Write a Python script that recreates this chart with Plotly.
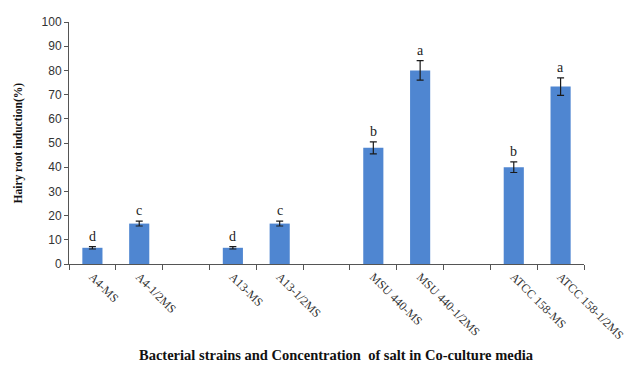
import plotly.graph_objects as go

# Strain / medium combinations; blank entries separate the strain groups
categories = ["A4-MS", "A4-1/2MS", " ",
              "A13-MS", "A13-1/2MS", "  ",
              "MSU 440-MS", "MSU 440-1/2MS", "   ",
              "ATCC 158-MS", "ATCC 158-1/2MS"]
induction = [6.7, 16.7, None, 6.7, 16.7, None, 48.0, 80.0, None, 40.0, 73.3]
std_err = [0.5, 1.0, None, 0.5, 1.0, None, 2.5, 4.0, None, 2.2, 3.6]
letters = ["d", "c", "", "d", "c", "", "b", "a", "", "b", "a"]

bar_color = "#4F86D1"
serif = "Liberation Serif, Times New Roman, serif"

fig = go.Figure()
fig.add_trace(go.Bar(
    x=categories,
    y=induction,
    marker=dict(color=bar_color, line=dict(width=0)),
    error_y=dict(type="data", array=std_err, visible=True,
                 color="#1a1a1a", thickness=1.2, width=3.5),
    width=0.43,
    showlegend=False,
))

# Significance letters above each error bar
for cat, val, err, lab in zip(categories, induction, std_err, letters):
    if val is None:
        continue
    fig.add_annotation(x=cat, y=val + err, text=lab, showarrow=False,
                       yanchor="bottom", yshift=1,
                       font=dict(family=serif, size=14, color="#222222"))

fig.update_layout(
    width=630, height=371,
    margin=dict(l=69, r=46, t=22, b=107, autoexpand=False),
    paper_bgcolor="white", plot_bgcolor="white",
    bargap=0.57,
    xaxis=dict(
        type="category",
        categoryorder="array", categoryarray=categories,
        range=[-0.5, 10.5],
        automargin=False,
        showline=True, linecolor="#555555", linewidth=1,
        ticks="outside", tickson="boundaries", ticklen=5,
        tickcolor="#555555",
        tickangle=45,
        tickfont=dict(family=serif, size=12, color="#333333"),
        showgrid=False, zeroline=False,
    ),
    yaxis=dict(
        range=[0, 100], tick0=0, dtick=10,
        automargin=False,
        showline=True, linecolor="#555555", linewidth=1,
        ticks="outside", ticklen=4, tickcolor="#555555",
        tickfont=dict(family="Liberation Sans, Arial, sans-serif", size=12,
                      color="#333333"),
        showgrid=False, zeroline=False,
    ),
)

fig.add_annotation(
    text="<b>Hairy root induction(%)</b>", textangle=-90,
    xref="paper", yref="paper", x=-0.1, y=0.5,
    xanchor="center", yanchor="middle", showarrow=False,
    font=dict(family=serif, size=11.5, color="#111111"),
)
fig.add_annotation(
    text="<b>Bacterial strains and Concentration  of salt in Co-culture media</b>",
    xref="paper", yref="paper", x=0.52, y=-0.375,
    xanchor="center", yanchor="middle", showarrow=False,
    font=dict(family=serif, size=14.5, color="#111111"),
)

fig.write_html("out.html")
